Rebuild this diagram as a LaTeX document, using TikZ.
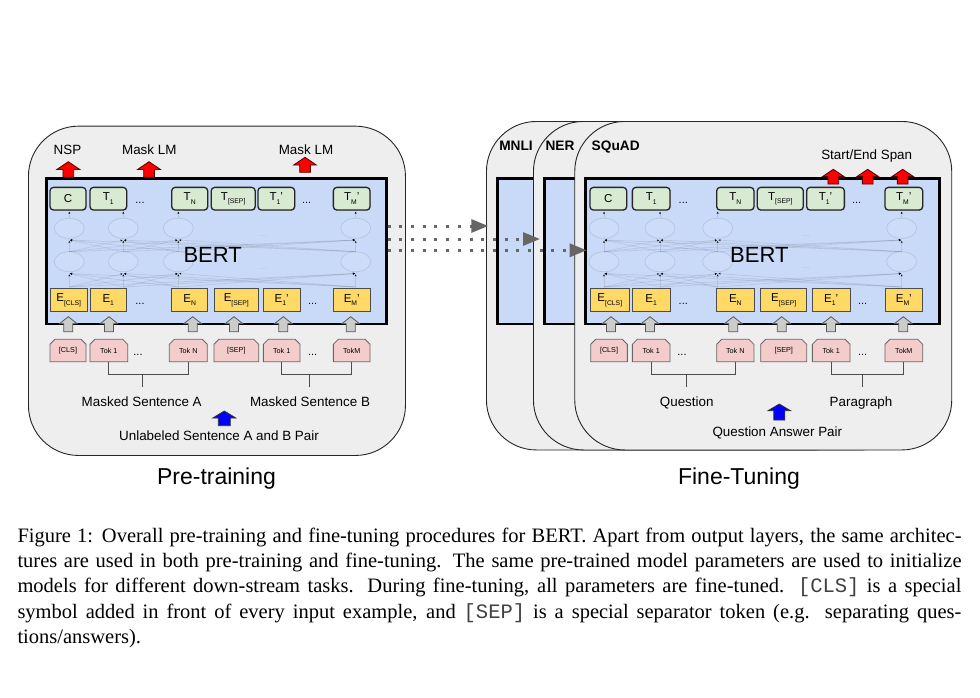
\documentclass[tikz,border=0pt]{standalone}
\usepackage{fontspec}
\setmainfont{Liberation Sans}
\newfontfamily\captionserif{Liberation Serif}
\newfontfamily\captionmono{Liberation Mono}
\usetikzlibrary{arrows.meta,shapes.misc,shadows}

\definecolor{panelgray}{HTML}{EEEEEE}
\definecolor{bertblue}{HTML}{C9DAF8}
\definecolor{tgreen}{HTML}{D9EAD3}
\definecolor{eyellow}{HTML}{FFD966}
\definecolor{tokpink}{HTML}{F4CCCC}
\definecolor{arrowgray}{HTML}{CCCCCC}
\definecolor{dotgray}{HTML}{666666}

% lowered small index inside token boxes
\newcommand\sbs[1]{\raisebox{-0.32em}{\fontsize{6.8}{7}\selectfont #1}}

% upward block arrow: style, x, tip y, base y, shaft width, head width, head height
\newcommand\blockup[7]{%
  \draw[#1] ({#2-#5/2},#4) -- ({#2-#5/2},{#3+#7}) -- ({#2-#6/2},{#3+#7}) -- (#2,#3)
    -- ({#2+#6/2},{#3+#7}) -- ({#2+#5/2},{#3+#7}) -- ({#2+#5/2},#4) -- cycle;}

% faint two-layer network drawn inside a BERT box
\newcommand\hiddennet[4]{%
  \foreach \a in {#1,#2,#3,#4}{
    \foreach \b in {#1,#2,#3,#4}{
      \draw[netline] (\a,287) -- (\b,273.5);
      \draw[netline] (\a,251.7) -- (\b,240);
    }
    \draw[netline] (\a,218.3) -- (\a,210.8);
  }
  \foreach \a in {#1,#2,#3,#4}{
    \draw[netnode] (\a,228.3) ellipse [x radius=15, y radius=10];
    \draw[netnode] (\a,261.7) ellipse [x radius=15, y radius=10];
  }}

\begin{document}
\begin{tikzpicture}[x=1pt,y=-1pt,
  panel/.style={draw=black!85, line width=0.9, fill=panelgray, rounded corners=50,
    inner sep=0, minimum width=377, anchor=north west},
  bertbox/.style={draw=black, line width=2.6, fill=bertblue, inner sep=0,
    anchor=north west, minimum height=145.4},
  tbox/.style={draw=black!85, line width=1.3, fill=tgreen, rounded corners=3.5,
    inner sep=0, minimum height=22.7, font=\fontsize{11.5}{12}\selectfont,
    drop shadow={shadow xshift=0.7pt, shadow yshift=-0.7pt, opacity=.35}},
  ebox/.style={draw=black!70, line width=0.8, fill=eyellow, inner sep=0,
    minimum height=23.4, font=\fontsize{11.5}{12}\selectfont},
  tokbox/.style={chamfered rectangle, chamfered rectangle corners={north west,north east},
    chamfered rectangle xsep=2.5pt, chamfered rectangle ysep=2.5pt,
    draw=black!60, line width=0.8, fill=tokpink, inner sep=0,
    minimum height=22.4, font=\fontsize{7.2}{8}\selectfont},
  dotsnode/.style={inner sep=0, font=\fontsize{11}{12}\selectfont},
  faintdots/.style={inner sep=0, font=\fontsize{9}{10}\selectfont, text=black, text opacity=.12},
  netline/.style={draw=black, draw opacity=.09, line width=.7, -{Latex[length=3,width=3]}},
  netnode/.style={draw=black, draw opacity=.10, line width=.7, fill=white, fill opacity=.08},
  lbl/.style={anchor=base, inner sep=0, font=\fontsize{13.4}{16}\selectfont},
  tasklbl/.style={anchor=base, inner sep=0, font=\bfseries\fontsize{13.7}{16}\selectfont},
  bertlbl/.style={anchor=base, inner sep=0, font=\fontsize{22}{24}\selectfont},
  phaselbl/.style={anchor=base, inner sep=0, font=\fontsize{23}{26}\selectfont},
  bracket/.style={draw=black!70, line width=1},
  grayarr/.style={fill=arrowgray, draw=black!65, line width=.8},
  redarr/.style={fill=red, draw=red!35!black, line width=.8},
  bluearr/.style={fill=blue, draw=black!80, line width=.8},
  dotarrow/.style={draw=dotgray, line width=3, dash pattern=on 3pt off 8.7pt,
    -{Triangle[length=17pt,width=13pt]}}
]
\useasboundingbox (0,0) rectangle (980,697);

%% ---------------- pre-training panel ----------------
\node[panel, minimum height=329.3] (pre) at (28,125.7) {};
\node[bertbox, minimum width=340] (bertA) at (45,177.3) {};
\hiddennet{69.3}{123.3}{178.3}{355.7}
\node[faintdots] (pnd1) at (263,235.7) {...};
\node[faintdots] (pnd2) at (263,269) {...};
\node[bertlbl] (bertAlbl) at (212.7,262.7) {BERT};

% outputs
\node[tbox, minimum width=36]   (pC)   at (68,198.7)    {C};
\node[tbox, minimum width=36.7] (pT1)  at (108.3,198.7) {T\sbs{1}};
\node[dotsnode]                 (pTd1) at (140,202.7)   {...};
\node[tbox, minimum width=36]   (pTN)  at (189.7,198.7) {T\sbs{N}};
\node[tbox, minimum width=44]   (pTS)  at (233.2,198.7) {T\sbs{[SEP]}};
\node[tbox, minimum width=36.7] (pT1b) at (276.3,198.7) {T\sbs{1}'};
\node[dotsnode]                 (pTd2) at (306.7,202.7) {...};
\node[tbox, minimum width=36.7] (pTM)  at (351.7,198.7) {T\sbs{M}'};

% embeddings
\node[ebox, minimum width=37.3] (pE0)  at (68.7,300)  {E\sbs{[CLS]}};
\node[ebox, minimum width=36.7] (pE1)  at (108.3,300) {E\sbs{1}};
\node[dotsnode]                 (pEd1) at (140,304.3) {...};
\node[ebox, minimum width=36]   (pEN)  at (189.7,300) {E\sbs{N}};
\node[ebox, minimum width=44.7] (pES)  at (236.3,300) {E\sbs{[SEP]}};
\node[ebox, minimum width=36.7] (pE1b) at (281.7,300) {E\sbs{1}'};
\node[dotsnode]                 (pEd2) at (312.7,304.3) {...};
\node[ebox, minimum width=36.7] (pEM)  at (351.7,300) {E\sbs{M}'};

% input tokens
\node[tokbox, minimum width=36]   (pk0)  at (68,350.5)    {[CLS]};
\node[tokbox, minimum width=37.7] (pk1)  at (108.8,350.5) {Tok 1};
\node[dotsnode]                   (pkd1) at (138,355)     {...};
\node[tokbox, minimum width=38]   (pkN)  at (188.3,350.5) {Tok N};
\node[tokbox, minimum width=44.7] (pkS)  at (236.3,350.5) {[SEP]};
\node[tokbox, minimum width=36.7] (pk1b) at (281.7,350.5) {Tok 1};
\node[dotsnode]                   (pkd2) at (312.7,355)   {...};
\node[tokbox, minimum width=36.7] (pkM)  at (351.7,350.5) {TokM};

% token -> embedding arrows
\blockup{grayarr}{68.3}{316.7}{331.7}{9}{17.7}{7}
\blockup{grayarr}{109}{316.7}{331.7}{9}{17.7}{7}
\blockup{grayarr}{192.7}{316.7}{331.7}{9}{17.7}{7}
\blockup{grayarr}{234}{316.7}{331.7}{9}{17.7}{7}
\blockup{grayarr}{283.3}{316.7}{331.7}{9}{17.7}{7}
\blockup{grayarr}{350.7}{316.7}{331.7}{9}{17.7}{7}

% output heads
\blockup{redarr}{68.3}{161.7}{177.3}{10.7}{22.7}{7.7}
\blockup{redarr}{149}{161.7}{177.3}{10.7}{22.7}{7.7}
\blockup{redarr}{305}{157.3}{172.3}{10.7}{22.7}{7.7}
\node[lbl] (nsp)  at (67.5,154.3)  {NSP};
\node[lbl] (mlm1) at (149.3,154.3) {Mask LM};
\node[lbl] (mlm2) at (306,154.3)   {Mask LM};

% sentence brackets
\draw[bracket] (pk1.south) -- ++(0,12.6) -| (pkN.south);
\draw[bracket] (pk1b.south) -- ++(0,12.6) -| (pkM.south);
\coordinate (stemA) at (142.3,374.3);
\coordinate (stemB) at (309.3,374.3);
\draw[bracket] (stemA) -- ++(0,12.4);
\draw[bracket] (stemB) -- ++(0,12.4);
\node[lbl] (sentA) at (141.7,406)   {Masked Sentence A};
\node[lbl] (sentB) at (310,406.7)   {Masked Sentence B};
\blockup{bluearr}{224.3}{411}{425.7}{12}{23}{7}
\node[lbl] (pairA) at (219,440.7) {Unlabeled Sentence A and B Pair};

\node[phaselbl] (pretrain) at (216.5,484.5) {Pre-training};

%% ---------------- fine-tuning panels ----------------
\node[panel, minimum height=328.5] (mnli) at (486,121) {};
\node[bertbox, minimum width=354] (bertM) at (496,177.3) {};
\node[panel, minimum height=328.5] (ner) at (533,121) {};
\node[bertbox, minimum width=354] (bertN) at (543.3,177.3) {};
\node[panel, minimum height=328.5] (squad) at (574.3,121) {};
\node[bertbox, minimum width=354] (bertS) at (584.3,177.3) {};
\node[tasklbl] (mnlilbl)  at (516,150.7)   {MNLI};
\node[tasklbl] (nerlbl)   at (560,150.7)   {NER};
\node[tasklbl] (squadlbl) at (615.7,150.5) {SQuAD};

\hiddennet{604}{660}{717.7}{901.7}
\node[faintdots] (fnd1) at (806.7,236)   {...};
\node[faintdots] (fnd2) at (806.7,268.3) {...};
\node[bertlbl] (bertSlbl) at (759.3,262.3) {BERT};

% outputs
\node[tbox, minimum width=36.7] (fC)   at (608.3,198.7) {C};
\node[tbox, minimum width=37.7] (fT1)  at (651.2,198.7) {T\sbs{1}};
\node[dotsnode]                 (fTd1) at (683.3,202.7) {...};
\node[tbox, minimum width=37.3] (fTN)  at (735.3,198.7) {T\sbs{N}};
\node[tbox, minimum width=46]   (fTS)  at (780.3,198.7) {T\sbs{[SEP]}};
\node[tbox, minimum width=37.7] (fT1b) at (825.5,198.7) {T\sbs{1}'};
\node[dotsnode]                 (fTd2) at (856.7,202.7) {...};
\node[tbox, minimum width=37.7] (fTM)  at (903.8,198.7) {T\sbs{M}'};

% embeddings
\node[ebox, minimum width=38.3] (fE0)  at (609.8,300) {E\sbs{[CLS]}};
\node[ebox, minimum width=37.7] (fE1)  at (651.2,300) {E\sbs{1}};
\node[dotsnode]                 (fEd1) at (683.3,304.3) {...};
\node[ebox, minimum width=37.3] (fEN)  at (735.3,300) {E\sbs{N}};
\node[ebox, minimum width=46]   (fES)  at (783.7,300) {E\sbs{[SEP]}};
\node[ebox, minimum width=37.7] (fE1b) at (831.2,300) {E\sbs{1}'};
\node[dotsnode]                 (fEd2) at (862.7,304.3) {...};
\node[ebox, minimum width=37.7] (fEM)  at (903.8,300) {E\sbs{M}'};

% input tokens
\node[tokbox, minimum width=36.7] (fk0)  at (609,350.5)   {[CLS]};
\node[tokbox, minimum width=37.7] (fk1)  at (651.2,350.5) {Tok 1};
\node[dotsnode]                   (fkd1) at (682,355)     {...};
\node[tokbox, minimum width=37.3] (fkN)  at (735.3,350.5) {Tok N};
\node[tokbox, minimum width=46]   (fkS)  at (783.7,350.5) {[SEP]};
\node[tokbox, minimum width=37.7] (fk1b) at (831.2,350.5) {Tok 1};
\node[dotsnode]                   (fkd2) at (862.7,355)   {...};
\node[tokbox, minimum width=37.7] (fkM)  at (903.8,350.5) {TokM};

\blockup{grayarr}{611}{316.7}{331.7}{9}{17.7}{7}
\blockup{grayarr}{650}{316.7}{331.7}{9}{17.7}{7}
\blockup{grayarr}{733.3}{316.7}{331.7}{9}{17.7}{7}
\blockup{grayarr}{781.7}{316.7}{331.7}{9}{17.7}{7}
\blockup{grayarr}{831}{316.7}{331.7}{9}{17.7}{7}
\blockup{grayarr}{903.3}{316.7}{331.7}{9}{17.7}{7}

% span heads
\blockup{redarr}{833.3}{169.3}{184}{10.7}{21.7}{7.3}
\blockup{redarr}{867.7}{169.3}{184}{10.7}{21.7}{7.3}
\blockup{redarr}{902.7}{169.3}{184}{10.7}{21.7}{7.3}
\node[lbl] (span) at (866.7,159.3) {Start/End Span};

% question / paragraph brackets
\draw[bracket] (fk1.south) -- ++(0,12.6) -| (fkN.south);
\draw[bracket] (fk1b.south) -- ++(0,12.6) -| (fkM.south);
\coordinate (stemQ) at (686.7,374.3);
\coordinate (stemP) at (862.3,374.3);
\draw[bracket] (stemQ) -- ++(0,12.4);
\draw[bracket] (stemP) -- ++(0,12.4);
\node[lbl] (quest) at (686.7,406)   {Question};
\node[lbl] (para)  at (861,406.7)   {Paragraph};
\blockup{bluearr}{779.3}{404}{420}{11}{22.5}{6.7}
\node[lbl] (qapair) at (777.3,436) {Question Answer Pair};

\node[phaselbl] (finetune) at (739,484.5) {Fine-Tuning};

%% ---------------- parameter transfer ----------------
\coordinate (d1e) at (488.3,226);
\coordinate (d2e) at (540,239);
\coordinate (d3e) at (586.7,250.3);
\draw[dotarrow] (bertA.east |- d1e) -- (d1e);
\draw[dotarrow] (bertA.east |- d2e) -- (d2e);
\draw[dotarrow] (bertA.east |- d3e) -- (d3e);

%% ---------------- caption ----------------
\node[anchor=north west, inner sep=0, align=left,
      font=\captionserif\fontsize{20.5}{25.3}\selectfont] (caption) at (17.3,527.7) {%
\makebox[944pt][s]{Figure 1: Overall pre-training and fine-tuning procedures for BERT. Apart from output layers, the same architec-}\\
\makebox[944pt][s]{tures are used in both pre-training and fine-tuning. The same pre-trained model parameters are used to initialize}\\
\makebox[944pt][s]{models for different down-stream tasks. During fine-tuning, all parameters are fine-tuned. {\captionmono\color{black!75}[CLS]} is a special}\\
\makebox[944pt][s]{symbol added in front of every input example, and {\captionmono\color{black!75}[SEP]} is a special separator token (e.g. separating ques-}\\
tions/answers).};
\end{tikzpicture}
\end{document}
